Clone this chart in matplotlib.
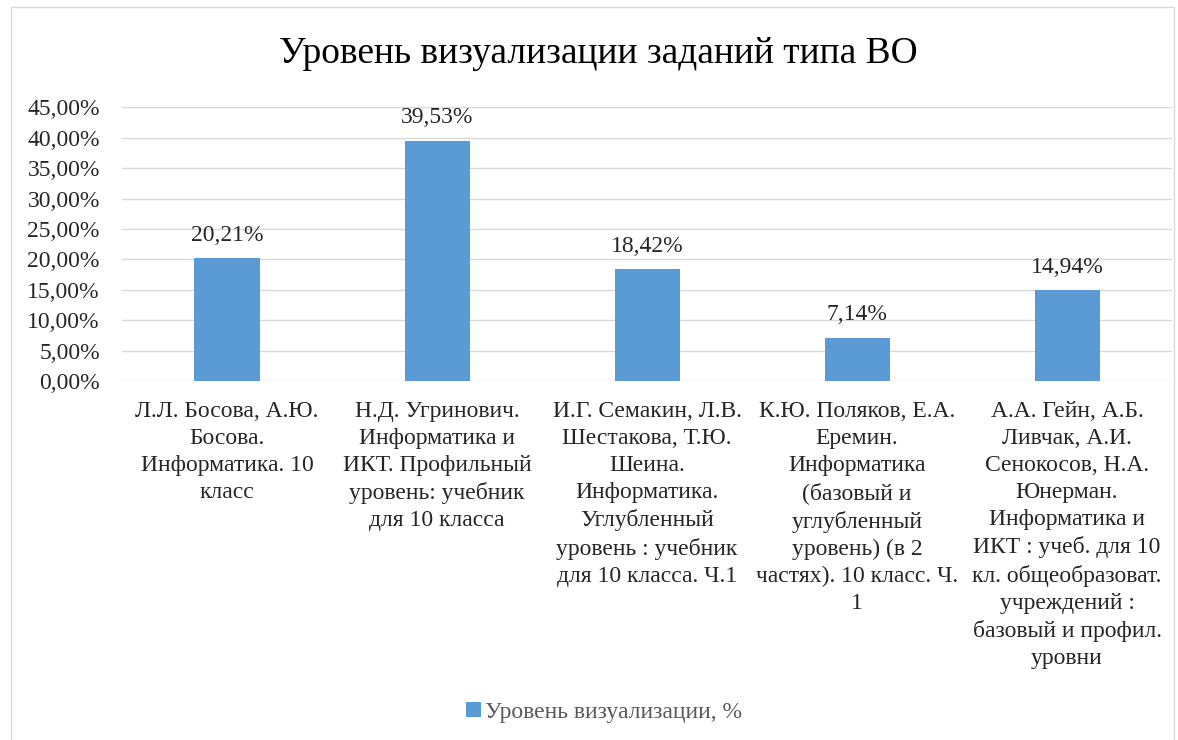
import matplotlib.pyplot as plt
from matplotlib.patches import Rectangle
from matplotlib.ticker import FuncFormatter

plt.rcParams['font.family'] = ['Liberation Serif', 'DejaVu Serif']

# data
categories = [
    "Л.Л. Босова, А.Ю.\nБосова.\nИнформатика. 10\nкласс",
    "Н.Д. Угринович.\nИнформатика и\nИКТ. Профильный\nуровень: учебник\nдля 10 класса",
    "И.Г. Семакин, Л.В.\nШестакова, Т.Ю.\nШеина.\nИнформатика.\nУглубленный\nуровень : учебник\nдля 10 класса. Ч.1",
    "К.Ю. Поляков, Е.А.\nЕремин.\nИнформатика\n(базовый и\nуглубленный\nуровень) (в 2\nчастях). 10 класс. Ч.\n1",
    "А.А. Гейн, А.Б.\nЛивчак, А.И.\nСенокосов, Н.А.\nЮнерман.\nИнформатика и\nИКТ : учеб. для 10\nкл. общеобразоват.\nучреждений :\nбазовый и профил.\nуровни",
]
values = [20.21, 39.53, 18.42, 7.14, 14.94]
yticks = [0, 5, 10, 15, 20, 25, 30, 35, 40, 45]
series_name = "Уровень визуализации, %"
title = "Уровень визуализации заданий типа ВО"

bar_color = '#5B9BD5'
text_color = '#262626'
fs = 17

fig = plt.figure(figsize=(11.78, 7.4), dpi=100)
ax = fig.add_axes([0.1036, 0.485, 0.8914, 0.37])

x = range(len(values))
ax.bar(x, values, width=0.31, color=bar_color, zorder=3, label=series_name)

for xi, v in zip(x, values):
    ax.annotate(f"{v:.2f}%".replace('.', ','), xy=(xi, v), xytext=(0, 9),
                textcoords='offset points', ha='center', va='bottom',
                fontsize=fs, color=text_color)

ax.set_xlim(-0.5, len(values) - 0.5)
ax.set_ylim(0, 45)
ax.set_yticks(yticks)
ax.yaxis.set_major_formatter(FuncFormatter(lambda v, p: f"{v:.2f}%".replace('.', ',')))
ax.grid(axis='y', color='#d9d9d9', linewidth=1, zorder=0)
for s in ax.spines.values():
    s.set_visible(False)
ax.tick_params(axis='both', length=0, labelsize=fs, labelcolor=text_color)
ax.tick_params(axis='y', pad=16)
ax.set_xticks(list(x))
ax.set_xticklabels(categories, fontsize=fs, linespacing=1.38, va='top')
ax.tick_params(axis='x', pad=14)

fig.text(0.508, 0.928, title, ha='center', va='center', fontsize=27, color='black')

ax.legend(loc='center', bbox_to_anchor=(0.513, 0.037), bbox_transform=fig.transFigure,
          frameon=False, fontsize=fs, labelcolor='#595959', handlelength=0.6,
          handleheight=0.6, handletextpad=0.2)

fig.patches.append(Rectangle((0.009, -0.01), 0.988, 1.0, transform=fig.transFigure,
                             fill=False, edgecolor='#d9d9d9', linewidth=1))

fig.savefig('out.png', dpi=100)
